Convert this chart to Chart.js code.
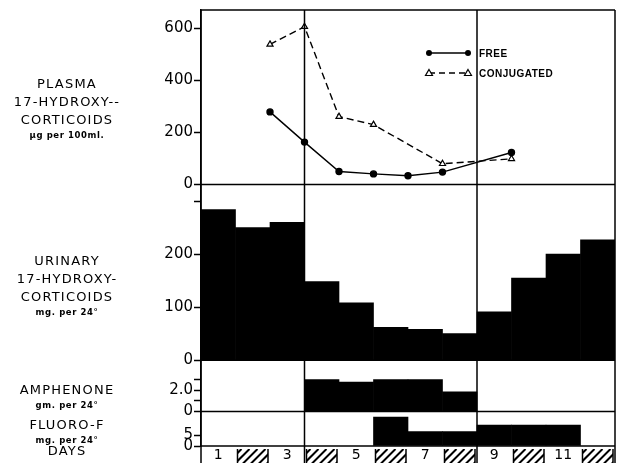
<!DOCTYPE html>
<html>
<head>
<meta charset="utf-8">
<script src="https://cdn.jsdelivr.net/npm/chart.js@4.4.0/dist/chart.umd.min.js"></script>
<style>
  html, body { margin: 0; padding: 0; background: #fff; }
</style>
</head>
<body>
<canvas id="chart" width="621" height="463"></canvas>
<script>
// study days, even days are hatched in the strip at the bottom
const days = [1, 2, 3, 4, 5, 6, 7, 8, 9, 10, 11, 12];
const hatchedDays = [2, 4, 6, 8, 10, 12];
const dayLabels = ['1', '', '3', '', '5', '', '7', '', '9', '', '11', ''];
const phaseBreaks = [3, 8];

// plasma 17-hydroxycorticoids (ug per 100 ml), sampled at the end of a day
const freeDays = [2, 3, 4, 5, 6, 7, 9];
const plasmaFree = [279, 163, 50, 41, 34, 48, 123];
const conjDays = [2, 3, 4, 5, 7, 9];
const plasmaConj = [538, 606, 261, 230, 80, 99];
const seriesNames = ['FREE', 'CONJUGATED'];

// urinary 17-hydroxycorticoids, mg per 24 h
const urinary = [284, 250, 260, 148, 108, 62, 58, 50, 91, 155, 200, 227];

// amphenone dose, gm per 24 h
const amphDays = [4, 5, 6, 7, 8];
const amphenone = [3.0, 2.75, 3.0, 3.0, 1.85];

// fluoro-F dose, mg per 24 h
const fluoroDays = [6, 7, 8, 9, 10, 11];
const fluoro = [13.4, 6.7, 6.7, 9.7, 9.7, 9.7];

// ticks and what is printed next to them
const plasmaTicks = [0, 200, 400, 600];
const plasmaTickLabels = ['0', '200', '400', '600'];
const urinaryTicks = [0, 100, 200, 300];
const urinaryTickLabels = ['0', '100', '200', ''];
const amphTicks = [0, 1, 2, 3];
const amphTickLabels = ['0', '', '2.0', ''];
const fluoroTicks = [0, 5];
const fluoroTickLabels = ['0', '5'];

// titles printed left of each panel: [big lines, small line, first baseline y]
const panelTitles = [
  [['PLASMA', '17-HYDROXY--', 'CORTICOIDS'], 'µg per 100ml.', 85],
  [['URINARY', '17-HYDROXY-', 'CORTICOIDS'], 'mg. per 24°', 262],
  [['AMPHENONE'], 'gm. per 24°', 391],
  [['FLUORO-F'], 'mg. per 24°', 426],
  [['DAYS'], '', 452]
];

const atDayCentres = (vals, list) => vals.map((v, i) => ({x: (list ? list[i] : days[i]) - 0.5, y: v}));

function yScale(ticks, labels, max, weight) {
  return {
    type: 'linear',
    position: 'left',
    stack: 'panels',
    stackWeight: weight,
    min: 0,
    max: max,
    afterBuildTicks: s => { s.ticks = ticks.map(v => ({value: v})); },
    afterFit: s => { s.width = 201; },
    ticks: {
      autoSkip: false,
      padding: 1,
      color: '#000',
      font: {family: 'DejaVu Sans', size: 15},
      callback: v => labels[ticks.indexOf(v)]
    },
    grid: {drawOnChartArea: false, tickLength: 7, tickColor: '#000', tickWidth: 1.5},
    border: {display: true, color: '#000', width: 1.5}
  };
}

const panelsPlugin = {
  id: 'panels',
  afterDatasetsDraw(chart) {
    const {ctx, chartArea: a, scales} = chart;
    const x = scales.x;
    const bottom = chart.height + 2;
    const line = (x0, y0, x1, y1) => { ctx.beginPath(); ctx.moveTo(x0, y0); ctx.lineTo(x1, y1); ctx.stroke(); };
    ctx.save();
    ctx.strokeStyle = '#000';
    ctx.fillStyle = '#000';
    ctx.lineWidth = 1.5;

    // outer frame and panel baselines
    line(a.left, a.top, a.right, a.top);
    line(a.left, a.top, a.left, bottom);
    line(a.right, a.top, a.right, bottom);
    ['yPlasma', 'yUrinary', 'yAmph', 'yFluoro'].forEach(id => {
      const y = scales[id].getPixelForValue(0);
      line(a.left, y, a.right, y);
    });
    phaseBreaks.forEach(d => {
      const px = x.getPixelForValue(d);
      line(px, a.top, px, bottom);
    });

    // day strip: hatched even days, numbers on odd days
    days.forEach((d, i) => {
      const x0 = x.getPixelForValue(d - 1);
      const x1 = x.getPixelForValue(d);
      if (hatchedDays.includes(d)) {
        const l = x0 + 2, r = x1 - 2, t = a.bottom + 3;
        ctx.lineWidth = 1.5;
        line(l, t, l, bottom);
        line(r, t, r, bottom);
        ctx.save();
        ctx.beginPath();
        ctx.rect(l, t, r - l, bottom - t);
        ctx.clip();
        ctx.lineWidth = 2;
        for (let hx = l - 20; hx < r + 20; hx += 8) line(hx, bottom, hx + 16, t);
        ctx.restore();
      }
      if (dayLabels[i]) {
        ctx.font = '14px "DejaVu Sans"';
        ctx.textAlign = 'center';
        ctx.textBaseline = 'middle';
        ctx.fillText(dayLabels[i], (x0 + x1) / 2, a.bottom + 9);
      }
    });

    // legend for the plasma curves
    const lx0 = a.left + 228, lx1 = a.left + 267;
    const rows = [a.top + 43, a.top + 63];
    ctx.lineWidth = 1.4;
    line(lx0, rows[0], lx1, rows[0]);
    ctx.setLineDash([6, 4]);
    line(lx0, rows[1], lx1, rows[1]);
    ctx.setLineDash([]);
    [lx0, lx1].forEach(px => {
      ctx.beginPath(); ctx.arc(px, rows[0], 3, 0, Math.PI * 2); ctx.fill();
      ctx.beginPath();
      ctx.moveTo(px, rows[1] - 3.5); ctx.lineTo(px + 3.5, rows[1] + 2.5); ctx.lineTo(px - 3.5, rows[1] + 2.5);
      ctx.closePath(); ctx.fillStyle = '#fff'; ctx.fill(); ctx.lineWidth = 1.2; ctx.stroke(); ctx.fillStyle = '#000';
    });
    ctx.font = 'bold 10px "Liberation Sans"';
    ctx.textAlign = 'left';
    ctx.textBaseline = 'middle';
    ctx.letterSpacing = '0.5px';
    seriesNames.forEach((n, i) => ctx.fillText(n, lx1 + 11, rows[i] + 1));

    // panel titles on the left
    ctx.textAlign = 'center';
    ctx.textBaseline = 'middle';
    panelTitles.forEach(([big, small, y0]) => {
      let y = y0;
      ctx.font = '13px "DejaVu Sans"';
      ctx.letterSpacing = '1.2px';
      big.forEach(t => { ctx.fillText(t, 67, y); y += 18; });
      if (small) {
        ctx.font = 'bold 8.5px "DejaVu Sans"';
        ctx.letterSpacing = '0.6px';
        ctx.fillText(small, 67, y - 3);
      }
    });
    ctx.restore();
  }
};

new Chart(document.getElementById('chart'), {
  data: {
    datasets: [
      {
        type: 'line', label: seriesNames[0], yAxisID: 'yPlasma',
        data: plasmaFree.map((v, i) => ({x: freeDays[i], y: v})),
        borderColor: '#000', borderWidth: 1.4,
        pointStyle: 'circle', pointRadius: 3, pointBackgroundColor: '#000', pointBorderColor: '#000'
      },
      {
        type: 'line', label: seriesNames[1], yAxisID: 'yPlasma',
        data: plasmaConj.map((v, i) => ({x: conjDays[i], y: v})),
        borderColor: '#000', borderWidth: 1.4, borderDash: [7, 4],
        pointStyle: 'triangle', pointRadius: 3.5, pointBackgroundColor: '#fff', pointBorderColor: '#000', pointBorderWidth: 1.2
      },
      {type: 'bar', yAxisID: 'yUrinary', data: atDayCentres(urinary), backgroundColor: '#000'},
      {type: 'bar', yAxisID: 'yAmph', data: atDayCentres(amphenone, amphDays), backgroundColor: '#000'},
      {type: 'bar', yAxisID: 'yFluoro', data: atDayCentres(fluoro, fluoroDays), backgroundColor: '#000'}
    ]
  },
  options: {
    responsive: false,
    animation: false,
    layout: {padding: {top: 9, right: 6, bottom: 17, left: 0}},
    datasets: {bar: {grouped: false, barPercentage: 1, categoryPercentage: 1, borderWidth: 0}},
    plugins: {legend: {display: false}, tooltip: {enabled: false}},
    // stacked panels are laid out last-first, so the bottom panel comes first here
    scales: {
      x: {type: 'linear', min: 0, max: 12, offset: false, display: false},
      yFluoro: yScale(fluoroTicks, fluoroTickLabels, 16, 34.5),
      yAmph: yScale(amphTicks, amphTickLabels, 4.8, 51.5),
      yUrinary: yScale(urinaryTicks, urinaryTickLabels, 331, 176),
      yPlasma: yScale(plasmaTicks, plasmaTickLabels, 670, 175)
    }
  },
  plugins: [panelsPlugin]
});
</script>
</body>
</html>
